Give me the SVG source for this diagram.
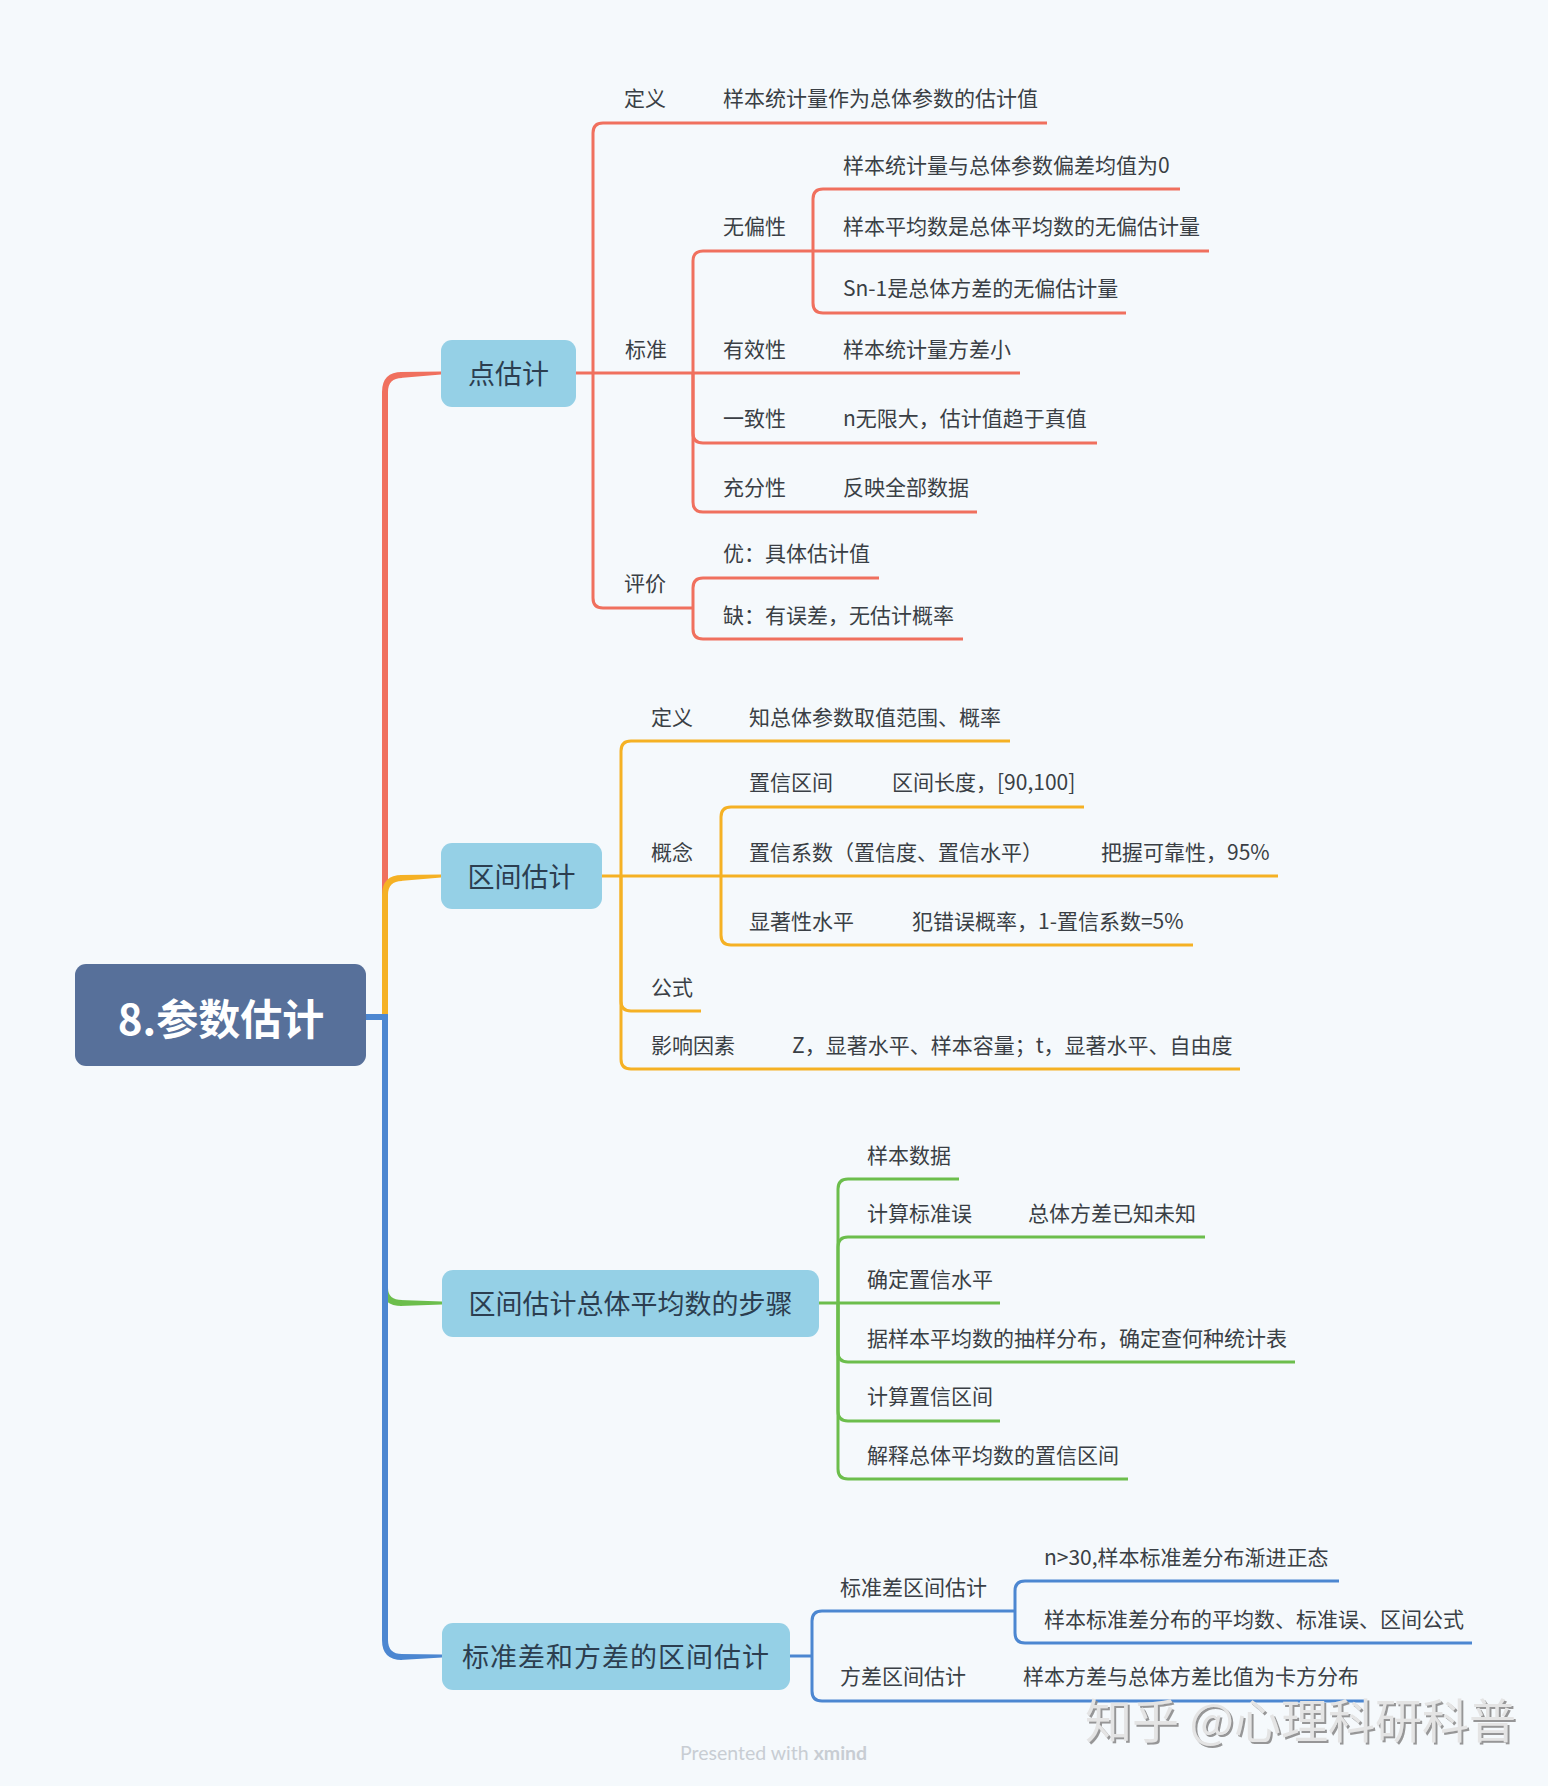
<svg xmlns="http://www.w3.org/2000/svg" width="1548" height="1786" viewBox="0 0 1548 1786">
<style>
.t{font-family:"Noto Sans CJK SC","Noto Sans",sans-serif;font-size:21px;fill:#3a3f45;dominant-baseline:central}
.m{font-family:"Noto Sans CJK SC","Noto Sans",sans-serif;font-size:27px;fill:#2c3e50;dominant-baseline:central;text-anchor:middle}
.node{fill:#95D0E6}
.r{stroke:#F0705E}
.o{stroke:#F5B124}
.g{stroke:#6CBE4C}
.b{stroke:#4C87D1}
.c path{fill:none;stroke-width:3;stroke-linecap:butt}
.trunk path{fill:none;stroke-width:6}
</style>
<defs>
  <filter id="wm" x="-5%" y="-20%" width="110%" height="140%">
    <feDropShadow dx="2" dy="2" stdDeviation="0.6" flood-color="#8c8c8c" flood-opacity="0.9"/>
  </filter>
</defs>
<rect width="1548" height="1786" fill="#F5F9FC"/>

<g id="connectors">
  <g class="trunk">
    <path class="r" d="M385 1017 V392 Q385 375 402 375"/>
    <polygon points="400,372 441,371.5 441,374.5 400,378" fill="#F0705E"/>
    <path class="o" d="M385 1017 V895 Q385 878 402 878"/>
    <polygon points="400,875 441,874.5 441,877.5 400,881" fill="#F5B124"/>
    <path class="g" d="M385 1280 V1288 Q385 1303 402 1303"/>
    <polygon points="400,1300 442,1301.5 442,1304.5 400,1306" fill="#6CBE4C"/>
    <path class="b" d="M366 1017 H385 V1640 Q385 1657 402 1657"/>
    <polygon points="400,1654 442,1654.5 442,1657.5 400,1660" fill="#4C87D1"/>
  </g>
  <g class="c">
    <path class="r" d="M576 373 H1020"/>
    <path class="r" d="M593 373 V133 Q593 123 603 123 H1047"/>
    <path class="r" d="M593 373 V598 Q593 608 603 608 H693"/>
    <path class="r" d="M693 373 V261 Q693 251 703 251 H813"/>
    <path class="r" d="M693 373 V433 Q693 443 703 443 H1097"/>
    <path class="r" d="M693 373 V502 Q693 512 703 512 H977"/>
    <path class="r" d="M813 251 V199 Q813 189 823 189 H1180"/>
    <path class="r" d="M813 251 H1209"/>
    <path class="r" d="M813 251 V303 Q813 313 823 313 H1126"/>
    <path class="r" d="M693 608 V588 Q693 578 703 578 H879"/>
    <path class="r" d="M693 608 V629 Q693 639 703 639 H963"/>
    <path class="o" d="M602 876 H1278"/>
    <path class="o" d="M621 876 V751 Q621 741 631 741 H1010"/>
    <path class="o" d="M621 876 V1001 Q621 1011 631 1011 H701"/>
    <path class="o" d="M621 876 V1059 Q621 1069 631 1069 H1240"/>
    <path class="o" d="M721 876 V817 Q721 807 731 807 H1084"/>
    <path class="o" d="M721 876 V935 Q721 945 731 945 H1193"/>
    <path class="g" d="M819 1303 H1000"/>
    <path class="g" d="M838 1303 V1189 Q838 1179 848 1179 H959"/>
    <path class="g" d="M838 1303 V1247 Q838 1237 848 1237 H1205"/>
    <path class="g" d="M838 1303 V1352 Q838 1362 848 1362 H1295"/>
    <path class="g" d="M838 1303 V1411 Q838 1421 848 1421 H1000"/>
    <path class="g" d="M838 1303 V1469 Q838 1479 848 1479 H1128"/>
    <path class="b" d="M790 1656 H812"/>
    <path class="b" d="M812 1656 V1621 Q812 1611 822 1611 H1015"/>
    <path class="b" d="M812 1656 V1691 Q812 1701 822 1701 H1367"/>
    <path class="b" d="M1015 1611 V1591 Q1015 1581 1025 1581 H1339"/>
    <path class="b" d="M1015 1611 V1633 Q1015 1643 1025 1643 H1472"/>
  </g>
</g>

<g id="root">
  <rect x="75" y="964" width="291" height="102" rx="11" fill="#57709A"/>
  <text x="221" y="1016" font-family="'Noto Sans CJK SC','Noto Sans',sans-serif" font-size="42" font-weight="bold" fill="#ffffff" text-anchor="middle" dominant-baseline="central">8.参数估计</text>
</g>

<g id="n-point">
  <rect class="node" x="441" y="340" width="135" height="67" rx="11"/>
  <text class="m" x="508.5" y="372">点估计</text>
</g>
<g id="n-point-def"><text class="t" x="624" y="97">定义</text></g>
<g id="n-point-def-1"><text class="t" x="723" y="97">样本统计量作为总体参数的估计值</text></g>
<g id="n-point-std"><text class="t" x="625" y="348">标准</text></g>
<g id="n-unbiased"><text class="t" x="723" y="225">无偏性</text></g>
<g id="n-unbiased-1"><text class="t" x="843" y="164">样本统计量与总体参数偏差均值为0</text></g>
<g id="n-unbiased-2"><text class="t" x="843" y="225">样本平均数是总体平均数的无偏估计量</text></g>
<g id="n-unbiased-3"><text class="t" x="843" y="287">Sn-1是总体方差的无偏估计量</text></g>
<g id="n-efficient"><text class="t" x="723" y="348">有效性</text></g>
<g id="n-efficient-1"><text class="t" x="843" y="348">样本统计量方差小</text></g>
<g id="n-consistent"><text class="t" x="723" y="417">一致性</text></g>
<g id="n-consistent-1"><text class="t" x="843" y="417">n无限大，估计值趋于真值</text></g>
<g id="n-sufficient"><text class="t" x="723" y="486">充分性</text></g>
<g id="n-sufficient-1"><text class="t" x="843" y="486">反映全部数据</text></g>
<g id="n-eval"><text class="t" x="624" y="582">评价</text></g>
<g id="n-eval-1"><text class="t" x="723" y="552">优：具体估计值</text></g>
<g id="n-eval-2"><text class="t" x="723" y="614">缺：有误差，无估计概率</text></g>

<g id="n-interval">
  <rect class="node" x="441" y="843" width="161" height="66" rx="11"/>
  <text class="m" x="521.5" y="875">区间估计</text>
</g>
<g id="n-int-def"><text class="t" x="651" y="716">定义</text></g>
<g id="n-int-def-1"><text class="t" x="749" y="716">知总体参数取值范围、概率</text></g>
<g id="n-concept"><text class="t" x="651" y="851">概念</text></g>
<g id="n-ci"><text class="t" x="749" y="781">置信区间</text></g>
<g id="n-ci-1"><text class="t" x="892" y="781">区间长度，[90,100]</text></g>
<g id="n-cc"><text class="t" x="749" y="851">置信系数（置信度、置信水平）</text></g>
<g id="n-cc-1"><text class="t" x="1101" y="851">把握可靠性，95%</text></g>
<g id="n-sig"><text class="t" x="749" y="920">显著性水平</text></g>
<g id="n-sig-1"><text class="t" x="912" y="920">犯错误概率，1-置信系数=5%</text></g>
<g id="n-formula"><text class="t" x="651" y="986">公式</text></g>
<g id="n-factor"><text class="t" x="651" y="1044">影响因素</text></g>
<g id="n-factor-1"><text class="t" x="792" y="1044">Z，显著水平、样本容量；t，显著水平、自由度</text></g>

<g id="n-steps">
  <rect class="node" x="442" y="1270" width="377" height="67" rx="11"/>
  <text class="m" x="630.5" y="1302">区间估计总体平均数的步骤</text>
</g>
<g id="n-step-1"><text class="t" x="867" y="1154">样本数据</text></g>
<g id="n-step-2"><text class="t" x="867" y="1212">计算标准误</text></g>
<g id="n-step-2-1"><text class="t" x="1028" y="1212">总体方差已知未知</text></g>
<g id="n-step-3"><text class="t" x="867" y="1278">确定置信水平</text></g>
<g id="n-step-4"><text class="t" x="867" y="1337">据样本平均数的抽样分布，确定查何种统计表</text></g>
<g id="n-step-5"><text class="t" x="867" y="1395">计算置信区间</text></g>
<g id="n-step-6"><text class="t" x="867" y="1454">解释总体平均数的置信区间</text></g>

<g id="n-sd">
  <rect class="node" x="442" y="1623" width="348" height="67" rx="11"/>
  <text class="m" x="616" y="1655" letter-spacing="1">标准差和方差的区间估计</text>
</g>
<g id="n-sd-1"><text class="t" x="840" y="1586">标准差区间估计</text></g>
<g id="n-sd-1-1"><text class="t" x="1044" y="1556">n&gt;30,样本标准差分布渐进正态</text></g>
<g id="n-sd-1-2"><text class="t" x="1044" y="1618">样本标准差分布的平均数、标准误、区间公式</text></g>
<g id="n-sd-2"><text class="t" x="840" y="1675">方差区间估计</text></g>
<g id="n-sd-2-1"><text class="t" x="1023" y="1675">样本方差与总体方差比值为卡方分布</text></g>

<text x="1085" y="1738" font-family="'Noto Sans CJK SC','Noto Sans',sans-serif" font-size="47" fill="#e4e4e4" filter="url(#wm)">知乎 @心理科研科普</text>
<text x="680" y="1760" font-family="Lato,'Open Sans',sans-serif" font-size="19.5" fill="#C8CDD3">Presented with <tspan font-weight="bold">xmind</tspan></text>
</svg>
